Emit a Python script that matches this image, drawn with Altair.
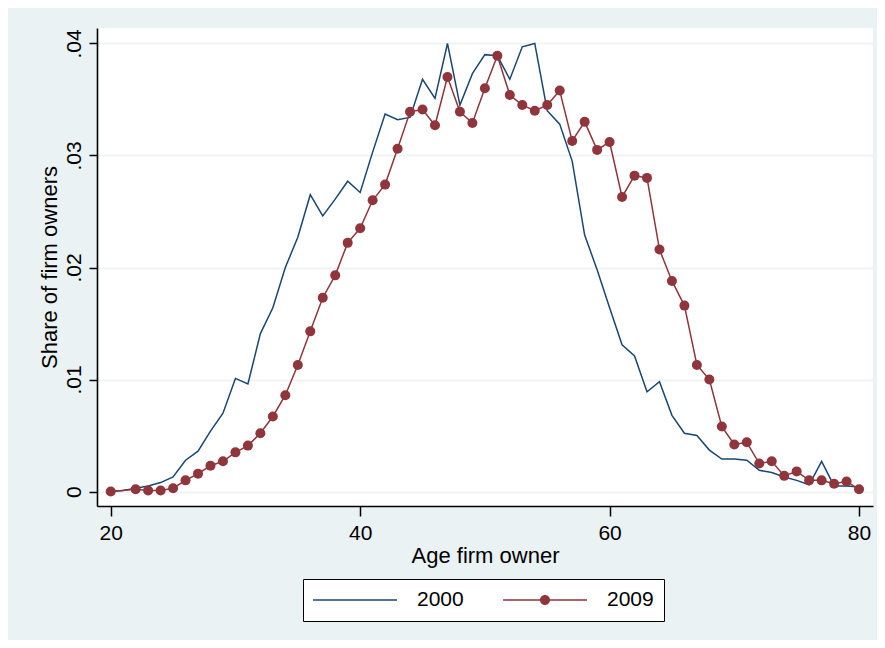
import altair as alt
import pandas as pd

# ---- data ----
ages_2000 = list(range(20, 81))
share_2000 = [
    0.0000, 0.0001, 0.0003, 0.0005, 0.0008, 0.0013, 0.0028, 0.0036, 0.0054, 0.0070,
    0.0101, 0.0096, 0.0141, 0.0164, 0.0200, 0.0227, 0.0265, 0.0246, 0.0261, 0.0277,
    0.0267, 0.0303, 0.0337, 0.0332, 0.0334, 0.0368, 0.0351, 0.0400, 0.0345, 0.0373,
    0.0390, 0.0389, 0.0368, 0.0397, 0.0400, 0.0340, 0.0328, 0.0295, 0.0229, 0.0198,
    0.0164, 0.0131, 0.0121, 0.0089, 0.0098, 0.0068, 0.0052, 0.0050, 0.0037, 0.0029,
    0.0029, 0.0028, 0.0019, 0.0017, 0.0013, 0.0010, 0.0006, 0.0027, 0.0005, 0.0005,
    0.0004,
]
ages_2009 = [20] + list(range(22, 81))
share_2009 = [
    0.0000, 0.0002, 0.0001, 0.0001, 0.0003, 0.0010, 0.0016, 0.0023, 0.0027,
    0.0035, 0.0041, 0.0052, 0.0067, 0.0086, 0.0113, 0.0143, 0.0173, 0.0193, 0.0222,
    0.0235, 0.0260, 0.0274, 0.0306, 0.0339, 0.0341, 0.0327, 0.0370, 0.0339, 0.0329,
    0.0360, 0.0389, 0.0354, 0.0345, 0.0340, 0.0345, 0.0358, 0.0313, 0.0330, 0.0305,
    0.0312, 0.0263, 0.0282, 0.0280, 0.0216, 0.0188, 0.0166, 0.0113, 0.0100, 0.0058,
    0.0042, 0.0044, 0.0025, 0.0027, 0.0014, 0.0018, 0.0010, 0.0010, 0.0007, 0.0009,
    0.0002,
]
series_names = ["2000", "2009"]
series_colors = ["#1A476F", "#90353B"]
x_ticks = [20, 40, 60, 80]
y_ticks = [0, 0.01, 0.02, 0.03, 0.04]

df00 = pd.DataFrame({"age": ages_2000, "share": share_2000, "series": "2000"})
df09 = pd.DataFrame({"age": ages_2009, "share": share_2009, "series": "2009"})
df = pd.concat([df00, df09])

FONT = "Arial, Liberation Sans"
BG = "#EAF2F3"

x_enc = alt.X(
    "age:Q",
    scale=alt.Scale(domain=[18.9, 81.12], nice=False, zero=False),
    axis=alt.Axis(values=x_ticks, title="Age firm owner", grid=False,
                  tickSize=10, labelPadding=6, titlePadding=2,
                  labelFontSize=21, titleFontSize=22),
)
y_enc = alt.Y(
    "share:Q",
    scale=alt.Scale(domain=[-0.00129, 0.04138], nice=False, zero=False),
    axis=alt.Axis(values=y_ticks, title="Share of firm owners", grid=True,
                  gridColor=BG, gridWidth=1.6,
                  labelExpr="datum.value == 0 ? '0' : replace(format(datum.value, '.2f'), '0.', '.')",
                  labelAngle=270, labelAlign="center", labelBaseline="alphabetic",
                  tickSize=8, labelPadding=9, titlePadding=2,
                  labelFontSize=21, titleFontSize=22),
)

# legend glyphs: a thin bar (line) and a thin bar with a dot in the middle
line_path = "M-1,-0.018H1V0.018H-1Z"
dot_path = ("M-1,-0.018H1V0.018H-1Z"
            "M-0.119,0A0.119,0.119 0 1,1 0.119,0A0.119,0.119 0 1,1 -0.119,0Z")

color_scale = alt.Scale(domain=series_names, range=series_colors)
shape_scale = alt.Scale(domain=series_names, range=[line_path, dot_path])

leg = alt.Legend(
    orient="none", legendX=206, legendY=551, direction="horizontal",
    title=None, symbolSize=7056, symbolOpacity=1, clipHeight=22,
    symbolStrokeWidth=0,
    labelFontSize=21, labelFont=FONT, labelColor="black",
    labelOffset=20, columnPadding=39, padding=10,
    strokeColor="black", fillColor="white",
)

line00 = alt.Chart(df00).mark_line(strokeWidth=1.5, color=series_colors[0]).encode(
    x=x_enc, y=y_enc,
)
line09 = alt.Chart(df09).mark_line(strokeWidth=1.5, color=series_colors[1]).encode(
    x="age:Q", y="share:Q",
)
points = alt.Chart(df09).mark_point(filled=True, size=100, opacity=1, color=series_colors[1]).encode(
    x="age:Q", y="share:Q",
)
ghost = alt.Chart(df).mark_point(filled=True, opacity=0).encode(
    x="age:Q",
    y="share:Q",
    color=alt.Color("series:N", scale=color_scale, legend=leg),
    shape=alt.Shape("series:N", scale=shape_scale, legend=leg),
)

chart = alt.layer(line00, line09, points, ghost).properties(
    width=776,
    height=478,
    padding={"left": 89, "top": 20, "right": 4, "bottom": 134},
    autosize=alt.AutoSizeParams(type="none"),
    background=BG,
).configure_view(
    fill="white", stroke=None,
).configure_axis(
    domainColor="black", domainWidth=1.6, tickColor="black", tickWidth=1.5,
    labelColor="black", titleColor="black", labelFont=FONT, titleFont=FONT,
    titleFontWeight="normal",
)

chart.save("out.html", embed_options={"renderer": "svg", "actions": False})
